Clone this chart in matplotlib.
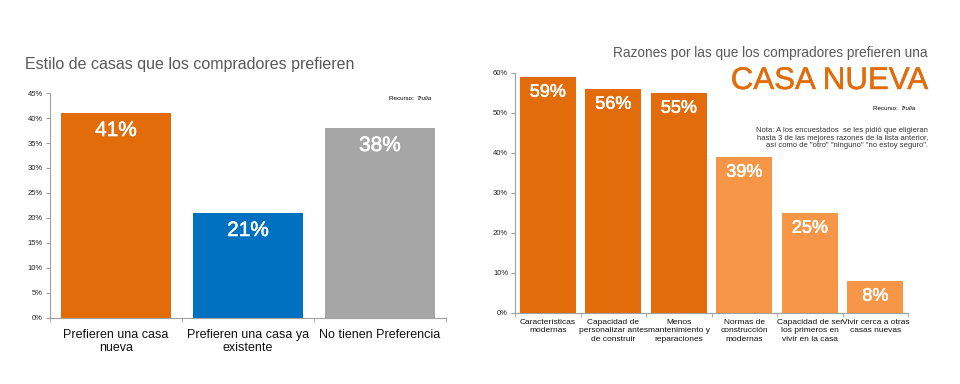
import matplotlib.pyplot as plt
import matplotlib.patheffects as pe
import numpy as np

plt.rcParams['font.family'] = ['Liberation Sans', 'DejaVu Sans']

estilos = ['Prefieren una casa\nnueva', 'Prefieren una casa ya\nexistente', 'No tienen Preferencia']
estilos_pct = [41, 21, 38]
estilos_col = ['#E36C0A', '#0070C0', '#A6A6A6']

razones = ['Características\nmodernas', 'Capacidad de\npersonalizar antes\nde construir',
           'Menos\nmantenimiento y\nreparaciones', 'Normas de\nconstrucción\nmodernas',
           'Capacidad de ser\nlos primeros en\nvivir en la casa', 'Vivir cerca a otras\ncasas nuevas']
razones_pct = [59, 56, 55, 39, 25, 8]
razones_col = ['#E36C0A', '#E36C0A', '#E36C0A', '#F79646', '#F79646', '#F79646']

gris = '#595959'
eje = '#A0A0A0'

fig = plt.figure(figsize=(9.6, 3.84), dpi=100)


def estilo_ejes(ax, n, ymax, step):
    ax.set_xlim(-0.5, n - 0.5)
    ax.set_ylim(0, ymax)
    ax.set_yticks(np.arange(0, ymax + 1, step))
    ax.set_yticklabels(['%d%%' % v for v in np.arange(0, ymax + 1, step)])
    ax.set_xticks(np.arange(n + 1) - 0.5, minor=True)
    ax.tick_params(axis='x', which='major', length=0)
    ax.tick_params(axis='x', which='minor', length=3, color=eje, direction='out')
    ax.tick_params(axis='y', length=3, color=eje, labelsize=5.5, labelcolor='#222222', pad=2)
    for s in ['top', 'right']:
        ax.spines[s].set_visible(False)
    for s in ['left', 'bottom']:
        ax.spines[s].set_color(eje)
        ax.spines[s].set_linewidth(0.8)


def grueso(color, w=0.4):
    return [pe.withStroke(linewidth=w, foreground=color)]


# izquierda
ax1 = fig.add_axes([0.0521, 0.1719, 0.4125, 0.5859])
x1 = np.arange(len(estilos))
ax1.bar(x1, estilos_pct, width=0.84, color=estilos_col)
estilo_ejes(ax1, len(estilos), 45, 5)
ax1.set_xticks(x1)
ax1.set_xticklabels(estilos, fontsize=9, color='#111111', linespacing=1.15)
ax1.tick_params(axis='x', which='major', pad=8)
for xi, v in zip(x1, estilos_pct):
    ax1.text(xi, v - 3.5, '%d%%' % v, ha='center', va='center', color='white',
             fontsize=15, path_effects=grueso('white'))
fig.text(25 / 960, 1 - 65 / 384, 'Estilo de casas que los compradores prefieren',
         fontsize=11.5, color=gris, va='center', ha='left')
fig.text(416 / 960, 1 - 98 / 384, 'Recurso: ', fontsize=4.5, ha='right', va='center')
fig.text(416 / 960, 1 - 98 / 384, 'Trulia', fontsize=4.5, style='italic', ha='left', va='center')

# derecha
ax2 = fig.add_axes([0.5365, 0.1849, 0.4094, 0.625])
x2 = np.arange(len(razones))
ax2.bar(x2, razones_pct, width=0.85, color=razones_col)
estilo_ejes(ax2, len(razones), 60, 10)
ax2.set_xticks(x2)
ax2.set_xticklabels(razones, fontsize=6.0, color='#111111', linespacing=1.35)
ax2.tick_params(axis='x', which='major', pad=4)
for xi, v in zip(x2, razones_pct):
    ax2.text(xi, v - 3.8, '%d%%' % v, ha='center', va='center', color='white',
             fontsize=13, path_effects=grueso('white'))

fig.text(928 / 960, 1 - 53 / 384, 'Razones por las que los compradores prefieren una',
         fontsize=9.8, color=gris, ha='right', va='center')
fig.text(928 / 960, 1 - 81 / 384, 'CASA NUEVA', fontsize=22.5, color='#E36C0A',
         ha='right', va='center', path_effects=grueso('#E36C0A', 0.3))
fig.text(900 / 960, 1 - 108 / 384, 'Recurso: ', fontsize=4.5, ha='right', va='center')
fig.text(900 / 960, 1 - 108 / 384, 'Trulia', fontsize=4.5, style='italic', ha='left', va='center')
fig.text(928 / 960, 1 - 138 / 384,
         'Nota: A los encuestados  se les pidió que eligieran\n'
         'hasta 3 de las mejores razones de la lista anterior,\n'
         'así como de "otro" "ninguno" "no estoy seguro".',
         fontsize=5.5, color='#333333', ha='right', va='center', multialignment='right',
         linespacing=1.15)

fig.savefig('out.png', dpi=100)
